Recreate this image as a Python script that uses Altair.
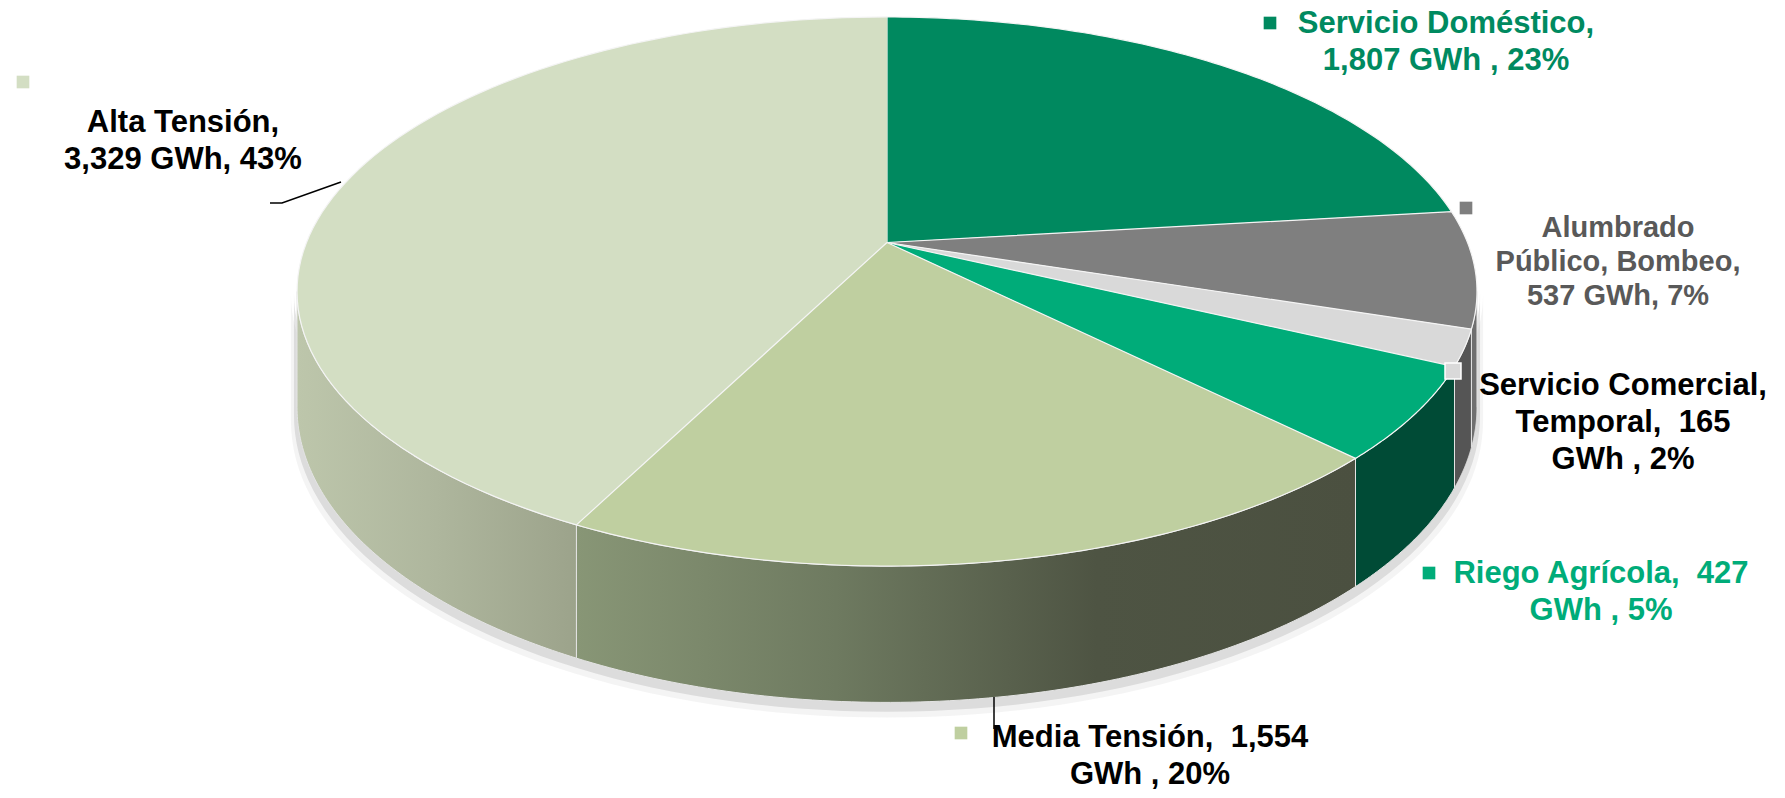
import math
import altair as alt
import pandas as pd

# ---------------- data ----------------
categories = ["Servicio Doméstico", "Alumbrado Público, Bombeo", "Servicio Comercial, Temporal",
              "Riego Agrícola", "Media Tensión", "Alta Tensión"]
gwh = [1807, 537, 165, 427, 1554, 3329]
label_texts = ["Servicio Doméstico,\n1,807 GWh , 23%",
               "Alumbrado\nPúblico, Bombeo,\n537 GWh, 7%",
               "Servicio Comercial,\nTemporal, \u00a0165\nGWh , 2%",
               "Riego Agrícola, \u00a0427\nGWh , 5%",
               "Media Tensión, \u00a01,554\nGWh , 20%",
               "Alta Tensión,\n3,329 GWh, 43%"]

# ---------------- styles ----------------
top_colors = ["#00895F", "#7F7F7F", "#D9D9D9", "#00AC79", "#BFCFA0", "#D3DEC3"]
label_colors = ["#008A60", "#595959", "#000000", "#00AC79", "#000000", "#000000"]
side_fills = {
    "Alumbrado Público, Bombeo": ["#6F6F6F", "#6F6F6F"],
    "Servicio Comercial, Temporal": ["#555555", "#555555"],
    "Riego Agrícola": ["#004B36", "#004B36"],
    "Media Tensión": ["#889676", "#6E7A60", "#4E5443", "#4B5040"],
    "Alta Tensión": ["#BDC6AB", "#AEB69D", "#9CA38B"],
}

# ---------------- layout (pixels) ----------------
W, H = 1785, 798
CX, CY = 887.0, 242.5          # pie apex
A, B, K, D = 580.5, 265.8, 0.1785, 112.0   # rim half-axes, perspective, depth
N = 90
PHI_L = math.acos(-K)
PHI_R = 2 * math.pi - PHI_L

label_pos = {  # centre x, first baseline y
    "Servicio Doméstico": (1446, 33),
    "Alumbrado Público, Bombeo": (1618, 237),
    "Servicio Comercial, Temporal": (1623, 395),
    "Riego Agrícola": (1601, 583),
    "Media Tensión": (1150, 747),
    "Alta Tensión": (183, 132),
}
key_pos = {
    "Servicio Doméstico": (1270, 23),
    "Alumbrado Público, Bombeo": (1466, 208),
    "Servicio Comercial, Temporal": (1453, 371),
    "Riego Agrícola": (1429, 573),
    "Media Tensión": (961, 733),
    "Alta Tensión": (23, 82),
}
leaders = [("alta", [(341, 182), (282, 203), (270, 203)]),
           ("media", [(994, 697), (994, 729)])]

slices = pd.DataFrame({"idx": list(range(len(categories))), "category": categories, "value": gwh})


def X(f):
    return alt.X(f, type="quantitative", scale=alt.Scale(domain=[0, W], nice=False, zero=False), axis=None)


def Y(f):
    return alt.Y(f, type="quantitative",
                 scale=alt.Scale(domain=[0, H], reverse=True, nice=False, zero=False), axis=None)


def with_angles():
    return (alt.Chart(slices)
            .transform_joinaggregate(total="sum(value)")
            .transform_window(cum="sum(value)", sort=[alt.SortField("idx")], frame=[None, 0])
            .transform_calculate(a0="2*PI*(datum.cum - datum.value)/datum.total")
            .transform_calculate(a1="2*PI*datum.cum/datum.total"))


def side_geom(ch, s0, s1, a_extra=0.0, d_extra=0.0, dy=0.0):
    return (ch.transform_calculate(s0=s0)
            .transform_calculate(s1=s1)
            .transform_filter("datum.s1 > datum.s0 + 1e-6")
            .transform_calculate(steps=f"sequence(0, {2 * N + 3})")
            .transform_flatten(["steps"], as_=["i"])
            .transform_calculate(bot=f"datum.i > {N} && datum.i <= {2 * N + 1} ? 1 : 0")
            .transform_calculate(t=f"datum.i <= {N} ? datum.i/{N} : (datum.i <= {2 * N + 1} ? 1 - (datum.i - {N + 1})/{N} : 0)")
            .transform_calculate(ang="datum.s0 + (datum.s1 - datum.s0)*datum.t")
            .transform_calculate(den=f"1 + {K}*cos(datum.ang)")
            .transform_calculate(px=f"{CX} + {A + a_extra}*sin(datum.ang)/datum.den")
            .transform_calculate(py=f"{CY + dy} - {B}*cos(datum.ang)/datum.den + datum.bot*{D + d_extra}/datum.den"))


layers = []

# soft drop shadow
for a_ex, d_ex, dy, op in [(6, 10, 3, 0.08), (3, 6, 2, 0.18)]:
    sh = side_geom(with_angles().transform_filter("datum.idx == 0"),
                   f"{PHI_L}", f"{PHI_R}", a_ex, d_ex, dy)
    layers.append(sh.mark_line(fill="#6f6f6f", opacity=op, strokeWidth=0)
                  .encode(x=X("px"), y=Y("py"), order=alt.Order("i:Q")))

# side walls
for cat, cols in side_fills.items():
    n = len(cols)
    grad = alt.LinearGradient(gradient="linear", x1=0, x2=1, y1=0, y2=0,
                              stops=[alt.GradientStop(color=c, offset=k / (n - 1)) for k, c in enumerate(cols)])
    sd = side_geom(with_angles(), f"max(datum.a0, {PHI_L})", f"min(datum.a1, {PHI_R})")
    sd = sd.transform_filter(alt.datum.category == cat)
    layers.append(sd.mark_line(fill=grad, stroke="#e4e4e4", strokeWidth=1, strokeJoin="round")
                  .encode(x=X("px"), y=Y("py"), order=alt.Order("i:Q")))

# top face
top = (with_angles()
       .transform_calculate(steps=f"sequence(-1, {N + 1})")
       .transform_flatten(["steps"], as_=["i"])
       .transform_calculate(ang=f"datum.a0 + (datum.a1 - datum.a0)*max(datum.i, 0)/{N}")
       .transform_calculate(den=f"1 + {K}*cos(datum.ang)")
       .transform_calculate(px=f"datum.i < 0 ? {CX} : {CX} + {A}*sin(datum.ang)/datum.den")
       .transform_calculate(py=f"datum.i < 0 ? {CY} : {CY} - {B}*cos(datum.ang)/datum.den")
       .mark_line(stroke="#f4f4f4", strokeWidth=1.2, strokeJoin="round")
       .encode(x=X("px"), y=Y("py"), order=alt.Order("i:Q"), detail="category:N",
               fill=alt.Fill("category:N", scale=alt.Scale(domain=categories, range=top_colors), legend=None)))
layers.append(top)

# leader lines
lead_df = pd.DataFrame([{"grp": g, "o": k, "lx": p[0], "ly": p[1]} for g, pts in leaders for k, p in enumerate(pts)])
layers.append(alt.Chart(lead_df).mark_line(color="#000000", strokeWidth=1.5)
              .encode(x=X("lx"), y=Y("ly"), detail="grp:N", order=alt.Order("o:Q")))

# legend keys in labels
key_df = pd.DataFrame({"category": categories,
                       "kx": [key_pos[c][0] for c in categories],
                       "ky": [key_pos[c][1] for c in categories]})
color_scale = alt.Scale(domain=categories, range=top_colors)
layers.append(alt.Chart(key_df).transform_filter(alt.datum.category != "Servicio Comercial, Temporal")
              .mark_square(size=160, opacity=1, strokeWidth=0)
              .encode(x=X("kx"), y=Y("ky"), fill=alt.Fill("category:N", scale=color_scale, legend=None)))
layers.append(alt.Chart(key_df).transform_filter(alt.datum.category == "Servicio Comercial, Temporal")
              .mark_square(size=256, opacity=1, stroke="#ffffff", strokeWidth=1.5, fill="#D9D9D9")
              .encode(x=X("kx"), y=Y("ky")))

# labels
lab_df = pd.DataFrame({"category": categories, "label": label_texts,
                       "lx": [label_pos[c][0] for c in categories],
                       "ly": [label_pos[c][1] for c in categories]})
lab_color = alt.Scale(domain=categories, range=label_colors)
layers.append(alt.Chart(lab_df).transform_filter(alt.datum.category != "Alumbrado Público, Bombeo")
              .mark_text(font="Liberation Sans", fontWeight="bold", fontSize=31, lineBreak="\n",
                         lineHeight=37, align="center", baseline="alphabetic")
              .encode(x=X("lx"), y=Y("ly"), text="label:N",
                      color=alt.Color("category:N", scale=lab_color, legend=None)))
layers.append(alt.Chart(lab_df).transform_filter(alt.datum.category == "Alumbrado Público, Bombeo")
              .mark_text(font="Liberation Sans", fontWeight="bold", fontSize=29, lineBreak="\n",
                         lineHeight=34, align="center", baseline="alphabetic")
              .encode(x=X("lx"), y=Y("ly"), text="label:N",
                      color=alt.Color("category:N", scale=lab_color, legend=None)))

chart = (alt.layer(*layers)
         .properties(width=W, height=H, padding=0, autosize="none", background="#ffffff")
         .resolve_scale(color="independent", fill="independent")
         .configure_view(stroke=None))

chart.save("out.html", embed_options={"renderer": "svg", "actions": False})
